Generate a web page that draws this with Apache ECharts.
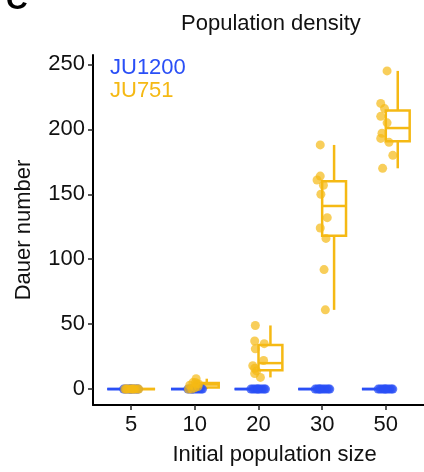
<!DOCTYPE html>
<html><head><meta charset="utf-8">
<script src="https://cdn.jsdelivr.net/npm/echarts@6/dist/echarts.min.js"></script>
<style>html,body{margin:0;padding:0;background:#fff}#c{width:424px;height:472px}</style>
</head><body><div id="c"></div>
<script>
// ---- data ----
const categories = ['5', '10', '20', '30', '50'];
const strains = ['JU1200', 'JU751'];
const yTicks = [0, 50, 100, 150, 200, 250];

// dauer counts per initial population size (one array per category)
const ju1200Values = [
  [0,0,0,0,0,0,0,0,0,0],
  [0,0,0,0,0,0,0,0,0,0],
  [0,0,0,0,0,0,0,0,0,0],
  [0,0,0,0,0,0,0,0,0,0],
  [0,0,0,0,0,0,0,0,0,0]
];
const ju751Values = [
  [0,0,0,0,0,0,0,0,0,0],
  [0,0,1,2,3,4,4,5,5,8],
  [49,37,35,31,22,18,16,14,12,9],
  [188,164,161,157,150,132,124,116,92,61],
  [245,220,216,210,205,197,193,190,180,170]
];
// horizontal jitter of each point, in category units
const ju1200Jitter = [
  [-0.12,-0.09,-0.06,-0.03,0.00,0.03,0.06,0.09,0.11,-0.01],
  [-0.11,-0.08,-0.05,-0.02,0.01,0.04,0.07,0.10,0.12,-0.04],
  [-0.12,-0.09,-0.06,-0.03,0.00,0.03,0.06,0.09,0.11,-0.01],
  [-0.11,-0.08,-0.05,-0.02,0.01,0.04,0.07,0.10,0.12,-0.04],
  [-0.12,-0.09,-0.06,-0.03,0.00,0.03,0.06,0.09,0.11,-0.01]
];
const ju751Jitter = [
  [-0.10,-0.06,-0.02,0.02,0.06,0.10,-0.08,0.04,0.00,0.12],
  [-0.10,-0.05,0.00,0.05,-0.08,0.03,0.06,-0.03,0.01,0.02],
  [-0.05,-0.06,0.09,-0.05,0.08,-0.09,-0.06,-0.03,-0.06,0.03],
  [-0.03,-0.03,-0.08,0.02,-0.02,0.08,-0.03,0.06,0.03,0.05],
  [0.02,-0.08,-0.02,-0.08,0.02,-0.06,-0.08,0.05,0.11,-0.05]
];

// ---- style ----
const BLUE = '#2A4FF6';
const YELLOW = '#F5B914';
const FONT = '"Liberation Sans", Arial, Helvetica, sans-serif';
const BOX_W = 0.375;
const DODGE = 0.1875;

// ---- stats (ggplot-like, quantile type 7) ----
function quantile(sorted, p) {
  const h = (sorted.length - 1) * p;
  const lo = Math.floor(h), hi = Math.ceil(h);
  return sorted[lo] + (h - lo) * (sorted[hi] - sorted[lo]);
}
function boxStats(values) {
  const s = values.slice().sort((a, b) => a - b);
  const q1 = quantile(s, 0.25), med = quantile(s, 0.5), q3 = quantile(s, 0.75);
  const iqr = q3 - q1;
  const lo = Math.min(...s.filter(v => v >= q1 - 1.5 * iqr));
  const hi = Math.max(...s.filter(v => v <= q3 + 1.5 * iqr));
  return [lo, q1, med, q3, hi];
}
function boxData(valuesPerCat, offset) {
  return valuesPerCat.map((vals, i) => [i + offset].concat(boxStats(vals)));
}
function pointData(valuesPerCat, jitter) {
  const out = [];
  valuesPerCat.forEach((vals, i) => vals.forEach((v, k) => out.push([i + jitter[i][k], v])));
  return out;
}
function makeRender(color) {
  return function (params, api) {
    const x = api.value(0), lo = api.value(1), q1 = api.value(2), med = api.value(3), q3 = api.value(4), hi = api.value(5);
    const h = BOX_W / 2;
    const tl = api.coord([x - h, q3]), br = api.coord([x + h, q1]);
    const mL = api.coord([x - h, med]), mR = api.coord([x + h, med]);
    const pLo = api.coord([x, lo]), pHi = api.coord([x, hi]);
    const pQ1 = api.coord([x, q1]), pQ3 = api.coord([x, q3]);
    const style = { stroke: color, fill: null, lineWidth: 2.5 };
    return {
      type: 'group',
      children: [
        { type: 'line', shape: { x1: pHi[0], y1: pHi[1], x2: pQ3[0], y2: pQ3[1] }, style },
        { type: 'line', shape: { x1: pQ1[0], y1: pQ1[1], x2: pLo[0], y2: pLo[1] }, style },
        { type: 'rect', shape: { x: tl[0], y: tl[1], width: br[0] - tl[0], height: br[1] - tl[1] }, style },
        { type: 'line', shape: { x1: mL[0], y1: mL[1], x2: mR[0], y2: mR[1] }, style }
      ]
    };
  };
}

const allVals = [].concat(...ju1200Values, ...ju751Values);
const dMin = Math.min(...allVals), dMax = Math.max(...allVals);
const yMin = dMin - 0.05 * (dMax - dMin), yMax = dMax + 0.05 * (dMax - dMin);
const catIdx = categories.map((c, i) => i);

const chart = echarts.init(document.getElementById('c'), null, { renderer: 'canvas' });
chart.setOption({
  animation: false,
  backgroundColor: '#fff',
  textStyle: { fontFamily: FONT },
  title: {
    text: 'Population density',
    left: 176, top: 8,
    textStyle: { fontFamily: FONT, fontSize: 22, fontWeight: 'normal', color: '#111' }
  },
  graphic: [{
    type: 'text', left: 6, top: -14,
    style: { text: 'C', font: 'bold 30px ' + FONT, fill: '#000' }
  }],
  legend: {
    data: [
      { name: strains[0], textStyle: { color: BLUE } },
      { name: strains[1], textStyle: { color: YELLOW } }
    ],
    orient: 'vertical', left: 100, top: 52,
    icon: 'none', itemWidth: 0, itemHeight: 14, itemGap: 1,
    selectedMode: false,
    textStyle: { fontSize: 22, fontFamily: FONT }
  },
  grid: { left: 93, right: -4, top: 55, bottom: 67, containLabel: false },
  xAxis: {
    type: 'value', min: -0.6, max: categories.length - 0.4,
    name: 'Initial population size', nameLocation: 'middle', nameGap: 39,
    nameTextStyle: { fontSize: 22, color: '#111', fontFamily: FONT, padding: [0, 0, 0, 32] },
    axisLine: { show: true, onZero: false, lineStyle: { color: '#000', width: 2 } },
    axisTick: { show: true, customValues: catIdx, length: 5, lineStyle: { color: '#222', width: 1.5 } },
    axisLabel: { customValues: catIdx, formatter: v => categories[Math.round(v)], fontSize: 22, color: '#111', margin: 9 },
    splitLine: { show: false }
  },
  yAxis: {
    type: 'value', min: yMin, max: yMax,
    name: 'Dauer number', nameLocation: 'middle', nameGap: 58,
    nameTextStyle: { fontSize: 22, color: '#111', fontFamily: FONT },
    axisLine: { show: true, onZero: false, lineStyle: { color: '#000', width: 2 } },
    axisTick: { show: true, customValues: yTicks, length: 5, lineStyle: { color: '#222', width: 1.5 } },
    axisLabel: { customValues: yTicks, fontSize: 22, color: '#111', margin: 8 },
    splitLine: { show: false }
  },
  series: [
    { name: strains[0], type: 'custom', renderItem: makeRender(BLUE), data: boxData(ju1200Values, -DODGE),
      encode: { x: 0, y: [1, 2, 3, 4, 5] }, itemStyle: { color: BLUE }, z: 2 },
    { name: strains[1], type: 'custom', renderItem: makeRender(YELLOW), data: boxData(ju751Values, DODGE),
      encode: { x: 0, y: [1, 2, 3, 4, 5] }, itemStyle: { color: YELLOW }, z: 2 },
    { name: strains[0], type: 'scatter', data: pointData(ju1200Values, ju1200Jitter), symbolSize: 9,
      itemStyle: { color: BLUE, opacity: 0.75 }, z: 3 },
    { name: strains[1], type: 'scatter', data: pointData(ju751Values, ju751Jitter), symbolSize: 9,
      itemStyle: { color: YELLOW, opacity: 0.7 }, z: 3 }
  ]
});
</script>
</body></html>
